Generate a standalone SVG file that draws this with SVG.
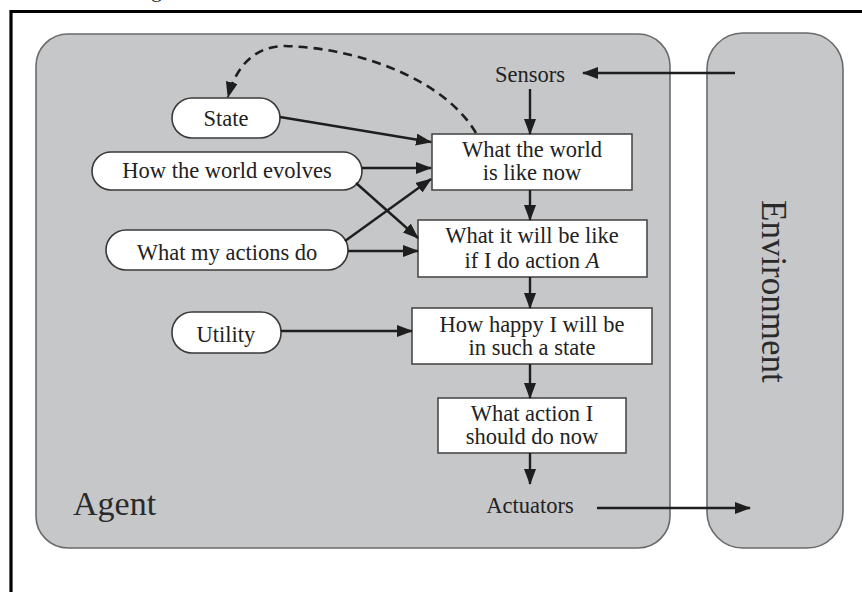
<svg xmlns="http://www.w3.org/2000/svg" width="862" height="592" viewBox="0 0 862 592">
  <style>
    .panel { fill: #c6c7c9; stroke: #6a6a6a; stroke-width: 1.6; }
    .box { fill: #ffffff; stroke: #4a4a4a; stroke-width: 1.6; }
    .oval { fill: #ffffff; stroke: #3a3a3a; stroke-width: 1.6; }
    .t { font-family: "Liberation Serif", "Times New Roman", serif; font-size: 22.5px; fill: #222; text-anchor: middle; }
    .big { font-family: "Liberation Serif", "Times New Roman", serif; fill: #2a2a2a; }
    .edge { fill: none; stroke: #1e1e1e; stroke-width: 2.4; marker-end: url(#head); }
    .dash { fill: none; stroke: #1e1e1e; stroke-width: 2.6; stroke-dasharray: 9 6; marker-end: url(#head); }
  </style>
  <defs>
    <marker id="head" markerUnits="userSpaceOnUse" markerWidth="16" markerHeight="12" refX="15" refY="6" orient="auto">
      <path d="M0,0 L16,6 L0,12 Z" fill="#1e1e1e"/>
    </marker>
  </defs>

  <rect width="862" height="592" fill="#ffffff"/>

  <!-- page frame, open to the right and bottom -->
  <path d="M11,592 V11.5 H862" fill="none" stroke="#000" stroke-width="3.2"/>
  <text class="big" x="151" y="-3" font-size="22">g</text>

  <!-- agent panel -->
  <g id="agent">
    <rect class="panel" x="36" y="34" width="634" height="514" rx="32" ry="32"/>
    <text class="big" x="73" y="515" font-size="34">Agent</text>
  </g>

  <!-- environment panel -->
  <g id="environment">
    <rect class="panel" x="707" y="33" width="136" height="515" rx="36" ry="36"/>
    <text class="big" font-size="35" transform="translate(762,200) rotate(90)">Environment</text>
  </g>

  <g id="sensors">
    <text class="t" x="530" y="82">Sensors</text>
  </g>
  <g id="actuators">
    <text class="t" x="530" y="513">Actuators</text>
  </g>

  <g id="world-now">
    <rect class="box" x="432" y="134" width="200" height="56"/>
    <text class="t" x="532" y="157">What the world</text>
    <text class="t" x="532" y="180">is like now</text>
  </g>
  <g id="world-next">
    <rect class="box" x="418" y="220" width="229" height="57"/>
    <text class="t" x="532" y="243">What it will be like</text>
    <text class="t" x="532" y="268">if I do action <tspan font-style="italic">A</tspan></text>
  </g>
  <g id="happiness">
    <rect class="box" x="412" y="308" width="240" height="56"/>
    <text class="t" x="532" y="332">How happy I will be</text>
    <text class="t" x="532" y="355">in such a state</text>
  </g>
  <g id="decision">
    <rect class="box" x="438" y="398" width="188" height="55"/>
    <text class="t" x="532" y="421">What action I</text>
    <text class="t" x="532" y="444">should do now</text>
  </g>

  <g id="state">
    <rect class="oval" x="172" y="98" width="108" height="40" rx="20" ry="20"/>
    <text class="t" x="226" y="126">State</text>
  </g>
  <g id="evolves">
    <rect class="oval" x="92" y="152" width="270" height="38" rx="19" ry="19"/>
    <text class="t" x="227" y="178">How the world evolves</text>
  </g>
  <g id="actions">
    <rect class="oval" x="106" y="230" width="242" height="40" rx="20" ry="20"/>
    <text class="t" x="227" y="260">What my actions do</text>
  </g>
  <g id="utility">
    <rect class="oval" x="172" y="312" width="109" height="41" rx="20" ry="20"/>
    <text class="t" x="226" y="342">Utility</text>
  </g>

  <g id="connectors">
    <line class="edge" x1="735" y1="73" x2="583" y2="73"/>
    <line class="edge" x1="530" y1="89" x2="530" y2="134"/>
    <line class="edge" x1="530" y1="190" x2="530" y2="220"/>
    <line class="edge" x1="530" y1="277" x2="530" y2="308"/>
    <line class="edge" x1="530" y1="364" x2="530" y2="398"/>
    <line class="edge" x1="530" y1="453" x2="530" y2="484"/>
    <line class="edge" x1="597" y1="508" x2="750" y2="508"/>
    <line class="edge" x1="280" y1="117" x2="431" y2="142"/>
    <line class="edge" x1="362" y1="168" x2="431" y2="168"/>
    <line class="edge" x1="356" y1="183" x2="418" y2="238"/>
    <line class="edge" x1="345" y1="241" x2="431" y2="179"/>
    <line class="edge" x1="348" y1="251" x2="418" y2="251"/>
    <line class="edge" x1="281" y1="331" x2="412" y2="331"/>
    <path class="dash" d="M476,133 C445,80 360,48 285,46 C255,46 236,66 228,97"/>
  </g>
</svg>
